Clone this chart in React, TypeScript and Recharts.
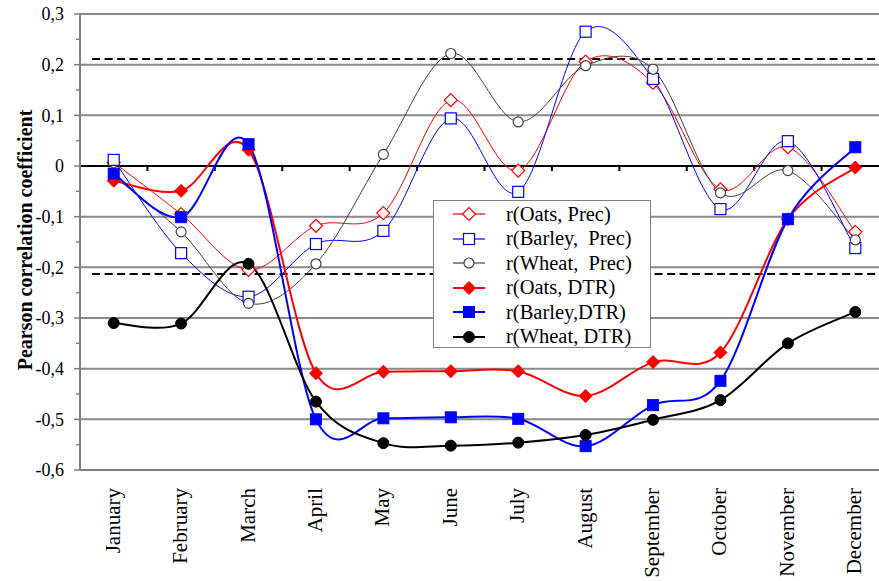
import React from "react";
import { LineChart, Line, XAxis, YAxis, ReferenceLine } from "recharts";

const months = [
  "January", "February", "March", "April", "May", "June",
  "July", "August", "September", "October", "November", "December",
];

const oatsPrec = [0.007, -0.095, -0.205, -0.118, -0.093, 0.13, -0.009, 0.206, 0.164, -0.046, 0.037, -0.13];
const barleyPrec = [0.012, -0.172, -0.258, -0.154, -0.128, 0.094, -0.051, 0.265, 0.172, -0.085, 0.049, -0.162];
const wheatPrec = [-0.02, -0.13, -0.271, -0.193, 0.023, 0.222, 0.087, 0.198, 0.191, -0.053, -0.009, -0.146];
const oatsDtr = [-0.029, -0.049, 0.032, -0.409, -0.406, -0.405, -0.405, -0.454, -0.387, -0.368, -0.105, -0.003];
const barleyDtr = [-0.015, -0.101, 0.043, -0.5, -0.498, -0.496, -0.499, -0.553, -0.472, -0.424, -0.105, 0.037];
const wheatDtr = [-0.31, -0.311, -0.193, -0.465, -0.547, -0.552, -0.546, -0.531, -0.501, -0.462, -0.35, -0.288];

const yTicks = [0.3, 0.25, 0.2, 0.15, 0.1, 0.05, 0, -0.05, -0.1, -0.15, -0.2, -0.25, -0.3, -0.35, -0.4, -0.45, -0.5, -0.55, -0.6];
const gridValues = [0.3, 0.2, 0.1, -0.1, -0.2, -0.3, -0.4, -0.5];
const significance = [0.211, -0.213];
const xTicks = [0.5, 1.5, 2.5, 3.5, 4.5, 5.5, 6.5, 7.5, 8.5, 9.5, 10.5, 11.5];
const boundaries = [0, 1, 2, 3, 4, 5, 6, 7, 8, 9, 10, 11, 12];

const FONT = '"Liberation Serif", Tinos, "Times New Roman", "DejaVu Serif", serif';

const rows = months.map((m, i) => ({
  x: i + 0.5,
  month: m,
  oatsPrec: oatsPrec[i],
  barleyPrec: barleyPrec[i],
  wheatPrec: wheatPrec[i],
  oatsDtr: oatsDtr[i],
  barleyDtr: barleyDtr[i],
  wheatDtr: wheatDtr[i],
}));

// Excel-like smoothed line (Catmull-Rom via cubic bezier)
const excelCurve = (context: any) => {
  let pts: number[][] = [];
  return {
    areaStart() {},
    areaEnd() {},
    lineStart() {
      pts = [];
    },
    point(x: number, y: number) {
      pts.push([+x, +y]);
    },
    lineEnd() {
      if (!pts.length) return;
      context.moveTo(pts[0][0], pts[0][1]);
      const t = 1 / 6;
      for (let i = 0; i < pts.length - 1; i++) {
        const p0 = pts[Math.max(0, i - 1)];
        const p1 = pts[i];
        const p2 = pts[i + 1];
        const p3 = pts[Math.min(pts.length - 1, i + 2)];
        context.bezierCurveTo(
          p1[0] + (p2[0] - p0[0]) * t,
          p1[1] + (p2[1] - p0[1]) * t,
          p2[0] - (p3[0] - p1[0]) * t,
          p2[1] - (p3[1] - p1[1]) * t,
          p2[0],
          p2[1]
        );
      }
    },
  };
};

type Kind = "diamond" | "square" | "circle";

function Marker({ kind, cx, cy, color, filled }: { kind: Kind; cx: number; cy: number; color: string; filled: boolean }) {
  const fill = filled ? color : "#fff";
  const sw = filled ? 1 : 1.2;
  if (kind === "diamond") {
    const r = 6.5;
    return (
      <polygon
        points={`${cx},${cy - r} ${cx + r},${cy} ${cx},${cy + r} ${cx - r},${cy}`}
        fill={fill}
        stroke={color}
        strokeWidth={sw}
      />
    );
  }
  if (kind === "square") {
    const h = 5.5;
    return <rect x={cx - h} y={cy - h} width={h * 2} height={h * 2} fill={fill} stroke={color} strokeWidth={sw} />;
  }
  return <circle cx={cx} cy={cy} r={filled ? 5.5 : 5} fill={fill} stroke={color} strokeWidth={sw} />;
}

const series = [
  { key: "oatsPrec", name: "r(Oats, Prec)", color: "#ff0000", kind: "diamond" as Kind, filled: false, width: 1 },
  { key: "barleyPrec", name: "r(Barley,  Prec)", color: "#0000ff", kind: "square" as Kind, filled: false, width: 1 },
  { key: "wheatPrec", name: "r(Wheat,  Prec)", color: "#404040", kind: "circle" as Kind, filled: false, width: 1 },
  { key: "oatsDtr", name: "r(Oats, DTR)", color: "#ff0000", kind: "diamond" as Kind, filled: true, width: 2 },
  { key: "barleyDtr", name: "r(Barley,DTR)", color: "#0000ff", kind: "square" as Kind, filled: true, width: 2 },
  { key: "wheatDtr", name: "r(Wheat, DTR)", color: "#000000", kind: "circle" as Kind, filled: true, width: 2 },
];

const fmt = (v: number) => (Math.abs(v) < 1e-9 ? "0" : v.toFixed(1).replace(".", ","));

function YTick(props: any) {
  const { x, y, payload } = props;
  const v = payload.value as number;
  const major = Math.abs(Math.round(v * 10) - v * 10) < 1e-6;
  const axisX = x + 16;
  return (
    <g>
      <line x1={axisX - (major ? 6 : 4)} x2={axisX} y1={y} y2={y} stroke="#808080" strokeWidth={1.5} />
      {major && (
        <text x={x} y={y} dy="0.35em" textAnchor="end" fontFamily={FONT} fontSize={18} fill="#000">
          {fmt(v)}
        </text>
      )}
    </g>
  );
}

function MonthTick(props: any) {
  const { x, y, index } = props;
  return (
    <text
      x={x + 6}
      y={y}
      transform={`rotate(-90, ${x + 6}, ${y})`}
      textAnchor="end"
      fontFamily={FONT}
      fontSize={21}
      fill="#000"
    >
      {months[index]}
    </text>
  );
}

function LegendBox() {
  return (
    <div
      style={{
        position: "absolute",
        left: 433,
        top: 200,
        width: 218,
        height: 148,
        border: "1px solid #7f7f7f",
        background: "#fff",
        fontFamily: FONT,
        fontSize: 20.5,
        paddingTop: 1,
        boxSizing: "border-box",
      }}
    >
      {series.map((s) => (
        <div key={s.key} style={{ height: 24.5, display: "flex", alignItems: "center", whiteSpace: "pre" }}>
          <svg width={64} height={24} style={{ marginLeft: 2, flex: "none" }}>
            <line x1={17} x2={49} y1={12} y2={12} stroke={s.color} strokeWidth={s.width === 1 ? 1.2 : 2} />
            <Marker kind={s.kind} cx={33} cy={12} color={s.color} filled={s.filled} />
          </svg>
          <span style={{ marginLeft: 6 }}>{s.name}</span>
        </div>
      ))}
    </div>
  );
}

export default function App() {
  return (
    <div style={{ position: "fixed", left: 0, top: 0, width: 879, height: 581, overflow: "hidden", background: "#fff" }}>
      <LineChart width={900} height={581} data={rows} margin={{ top: 14, right: 11, left: 0, bottom: 0 }}>
        <XAxis
          dataKey="x"
          type="number"
          domain={[0, 12]}
          ticks={xTicks}
          interval={0}
          height={111}
          tickSize={0}
          tickMargin={18}
          tickLine={false}
          tick={<MonthTick />}
          axisLine={{ stroke: "#808080", strokeWidth: 2 }}
        />
        <YAxis
          type="number"
          domain={[-0.6, 0.3]}
          ticks={yTicks}
          interval={0}
          width={80}
          tickSize={0}
          tickMargin={16}
          tickLine={false}
          tick={<YTick />}
          axisLine={{ stroke: "#808080", strokeWidth: 2 }}
          allowDataOverflow
        />
        {gridValues.map((v) => (
          <ReferenceLine key={`g${v}`} y={v} stroke="#8a8a8a" strokeWidth={2} />
        ))}
        <ReferenceLine y={0} stroke="#000" strokeWidth={2} />
        {boundaries.map((b) => (
          <ReferenceLine
            key={`b${b}`}
            segment={[{ x: b, y: 0 }, { x: b, y: -0.01 }]}
            stroke="#000"
            strokeWidth={2}
            ifOverflow="visible"
          />
        ))}
        {significance.map((v) => (
          <ReferenceLine
            key={`s${v}`}
            segment={[{ x: 0.18, y: v }, { x: 12, y: v }]}
            stroke="#000"
            strokeWidth={2}
            strokeDasharray="8 4.5"
          />
        ))}
        {series.map((s) => (
          <Line
            key={s.key}
            dataKey={s.key}
            type={excelCurve as any}
            stroke={s.color}
            strokeWidth={s.width}
            dot={(p: any) => (
              <Marker key={`${s.key}-${p.index}`} kind={s.kind} cx={p.cx} cy={p.cy} color={s.color} filled={s.filled} />
            )}
            activeDot={false}
            isAnimationActive={false}
          />
        ))}
      </LineChart>
      <LegendBox />
      <svg style={{ position: "absolute", left: 0, top: 0, pointerEvents: "none" }} width={40} height={581}>
        <text
          x={32}
          y={240}
          transform="rotate(-90, 32, 240)"
          textAnchor="middle"
          fontFamily={FONT}
          fontSize={20}
          fontWeight="bold"
          fill="#000"
        >
          Pearson correlation coefficient
        </text>
      </svg>
    </div>
  );
}
